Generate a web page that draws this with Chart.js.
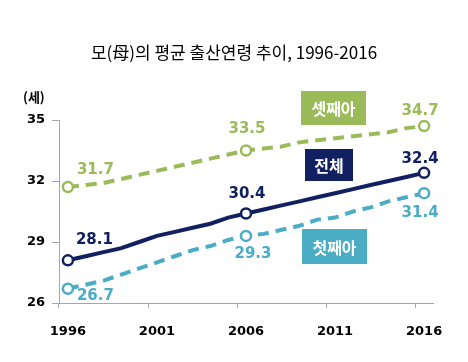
<!DOCTYPE html>
<html><head><meta charset="utf-8">
<script src="https://cdn.jsdelivr.net/npm/chart.js@4"></script>
<style>html,body{margin:0;padding:0;background:#fff}#wrap{width:468px;height:362px}</style>
</head><body><div id="wrap"><canvas id="c" width="468" height="362"></canvas></div>
<script>
const years = ['1996','1997','1998','1999','2000','2001','2002','2003','2004','2005','2006','2007','2008','2009','2010','2011','2012','2013','2014','2015','2016'];
const tickYears = ['1996','2001','2006','2011','2016'];
const labeledYears = ['1996','2006','2016'];
const total = [28.1,28.3,28.5,28.7,29.0,29.3,29.5,29.7,29.9,30.2,30.4,30.6,30.8,31.0,31.2,31.4,31.6,31.8,32.0,32.2,32.4];
const first = [26.7,26.9,27.1,27.4,27.7,28.0,28.3,28.6,28.8,29.1,29.3,29.4,29.6,29.8,30.1,30.2,30.5,30.7,31.0,31.2,31.4];
const third = [31.7,31.8,31.9,32.1,32.3,32.5,32.7,32.9,33.1,33.3,33.5,33.6,33.7,33.9,34.0,34.1,34.2,34.3,34.4,34.6,34.7];
const seriesNames = ['전체','첫째아','셋째아'];
const titleText = '모(母)의 평균 출산연령 추이, 1996-2016';
const unitText = '(세)';

const GREEN = '#9BBB59', NAVY = '#102060', TEAL = '#4BACC6', AXIS = '#A6A6A6';
const numFont = 'DejaVu Sans';
const krFont = "'Noto Sans CJK KR'";

// label placement per dataset: [dx, dy, align] for labeled points
const labelPlacement = [
  [[8,-20,'left'],[1,-19,'center'],[-4,-14,'center']],
  [[9,7,'left'],[7,18,'center'],[-4,20,'center']],
  [[9,-17,'left'],[1,-21,'center'],[-4,-15,'center']]
];
const boxes = [
  {ds:2, x:301, y:91, w:65, h:34},
  {ds:0, x:305, y:149, w:48, h:32},
  {ds:1, x:302, y:229, w:65, h:35}
];

const annot = {
  id: 'annot',
  afterDatasetsDraw(chart) {
    const ctx = chart.ctx;
    ctx.save();
    chart.data.datasets.forEach((ds, di) => {
      const meta = chart.getDatasetMeta(di);
      let k = 0;
      ds.data.forEach((v, i) => {
        if (!labeledYears.includes(years[i])) return;
        const pt = meta.data[i];
        const p = labelPlacement[di][k++];
        ctx.font = 'bold 15px ' + numFont;
        ctx.fillStyle = ds.borderColor;
        ctx.textAlign = p[2];
        ctx.textBaseline = 'middle';
        ctx.fillText(v.toFixed(1), pt.x + p[0], pt.y + p[1]);
      });
    });
    boxes.forEach(b => {
      const ds = chart.data.datasets[b.ds];
      ctx.fillStyle = ds.borderColor;
      ctx.fillRect(b.x, b.y, b.w, b.h);
      ctx.fillStyle = '#fff';
      ctx.font = 'bold 16px ' + krFont;
      ctx.textAlign = 'center';
      ctx.textBaseline = 'middle';
      ctx.fillText(ds.label, b.x + b.w / 2, b.y + b.h / 2 + 1);
    });
    ctx.fillStyle = '#000';
    ctx.font = 'bold 13px ' + krFont;
    ctx.textAlign = 'left';
    ctx.textBaseline = 'middle';
    ctx.fillText(unitText, 23, 97);
    ctx.font = '17px ' + krFont;
    ctx.textAlign = 'center';
    ctx.fillText(titleText, 234, 53);
    ctx.restore();
  }
};

function ptRadius(ctx) { return labeledYears.includes(years[ctx.dataIndex]) ? 5 : 0; }

new Chart(document.getElementById('c'), {
  type: 'line',
  data: {
    labels: years,
    datasets: [
      {label: seriesNames[0], data: total, borderColor: NAVY, borderWidth: 4, pointRadius: ptRadius, pointHoverRadius: ptRadius, pointBackgroundColor: '#fff', pointBorderColor: NAVY, pointBorderWidth: 2.5, tension: 0},
      {label: seriesNames[1], data: first, borderColor: TEAL, borderWidth: 4, borderDash: [11,7], pointRadius: ptRadius, pointHoverRadius: ptRadius, pointBackgroundColor: '#fff', pointBorderColor: TEAL, pointBorderWidth: 2.5, tension: 0},
      {label: seriesNames[2], data: third, borderColor: GREEN, borderWidth: 4, borderDash: [11,7], pointRadius: ptRadius, pointHoverRadius: ptRadius, pointBackgroundColor: '#fff', pointBorderColor: GREEN, pointBorderWidth: 2.5, tension: 0}
    ]
  },
  options: {
    responsive: false,
    animation: false,
    layout: {padding: {left: 0, right: 35, top: 120, bottom: 0}},
    plugins: {
      legend: {display: false},
      tooltip: {enabled: false},
      title: {display: false}
    },
    scales: {
      x: {
        offset: true,
        grid: {offset: true, drawOnChartArea: false, drawTicks: true, tickLength: 5, lineWidth: 1,
          color: c => (c.index !== undefined && c.index % 5 === 0) ? AXIS : 'rgba(0,0,0,0)'},
        border: {color: AXIS, width: 1},
        ticks: {autoSkip: false, maxRotation: 0, padding: 16, color: '#000', font: {family: numFont, weight: 'bold', size: 13},
          callback: (v, i) => tickYears.includes(years[i]) ? years[i] : ''},
        afterFit: s => { s.height = 59; }
      },
      y: {
        min: 26, max: 35,
        ticks: {stepSize: 3, padding: 7, color: '#000', font: {family: numFont, weight: 'bold', size: 13}},
        grid: {drawOnChartArea: false, tickLength: 7, color: AXIS},
        border: {color: AXIS, width: 1},
        afterFit: s => { s.width = 59; }
      }
    }
  },
  plugins: [annot]
});
</script>
</body></html>
